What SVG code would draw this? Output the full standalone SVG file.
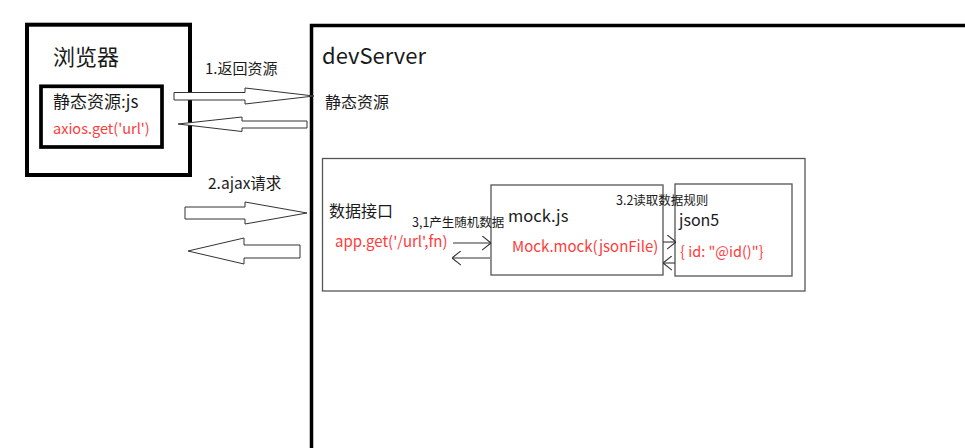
<svg xmlns="http://www.w3.org/2000/svg" width="965" height="448" viewBox="0 0 965 448">
<style>
text{font-family:"Noto Sans CJK SC","Noto Sans",sans-serif;fill:#1a1a1a}
.red{fill:#ff3b3b}
.thick{fill:none;stroke:#000}
.thin{fill:#fff;stroke:#555;stroke-width:1.3}
.block{fill:#fff;stroke:#333;stroke-width:1}
.line{fill:none;stroke:#333;stroke-width:1.1}
</style>
<defs>
<marker id="open" viewBox="0 0 10 16" refX="10" refY="8" markerWidth="9" markerHeight="15" markerUnits="userSpaceOnUse" orient="auto">
<path d="M0,0 L10,8 L0,16" fill="none" stroke="#333" stroke-width="1.2"/>
</marker>
</defs>
<rect width="965" height="448" fill="#fff"/>
<g id="browser">
<rect class="thick" x="27" y="24.7" width="163" height="150.3" stroke-width="4"/>
<text x="53" y="65" font-size="22">浏览器</text>
</g>
<g id="static-js">
<rect class="thick" x="41" y="86.3" width="121" height="60.7" stroke-width="3.7"/>
<text x="53" y="108" font-size="17">静态资源:js</text>
<text class="red" x="53" y="134" font-size="14.5">axios.get('url')</text>
</g>
<g id="devServer">
<rect class="thick" x="311.5" y="25.5" width="700" height="500" stroke-width="3.5"/>
<text x="322" y="64" font-size="22">devServer</text>
</g>
<g id="static-resource">
<text x="325" y="108" font-size="16">静态资源</text>
</g>
<g id="data-api">
<rect class="thin" x="322.5" y="158.5" width="482.5" height="132.5"/>
<text x="329" y="217" font-size="16">数据接口</text>
<text class="red" x="335" y="247" font-size="15">app.get('/url',fn)</text>
</g>
<g id="mock">
<rect class="thin" x="491" y="185" width="172" height="90"/>
<text x="508" y="222" font-size="16.5">mock.js</text>
<text class="red" x="512" y="252" font-size="15">Mock.mock(jsonFile)</text>
</g>
<g id="json5">
<rect class="thin" x="675" y="184" width="117" height="92"/>
<text x="679" y="226" font-size="16">json5</text>
<text class="red" x="680" y="257" font-size="14.5">{ id: "@id()"}</text>
</g>
<g id="connectors">
<polygon class="block" points="174,92.5 245,92.5 245,88 314,96 245,104 245,100 174,100"/>
<text x="205" y="74" font-size="15">1.返回资源</text>
<polygon class="block" points="178,124 242,117 242,121 307,121 307,128 242,128 242,131.5"/>
<text x="208" y="189" font-size="15.5">2.ajax请求</text>
<polygon class="block" points="185,207 245,207 245,202 307,213 245,224 245,219 185,219"/>
<polygon class="block" points="188,251 244,238 244,245 300,245 300,258 244,258 244,264"/>
<line class="line" x1="453" y1="243" x2="491" y2="243" marker-end="url(#open)"/>
<line class="line" x1="490" y1="258" x2="452" y2="258" marker-end="url(#open)"/>
<line class="line" x1="663" y1="242" x2="676" y2="242" marker-end="url(#open)"/>
<line class="line" x1="675" y1="263" x2="663" y2="263" marker-end="url(#open)"/>
<text x="412" y="227" font-size="12.5" fill="#222">3,1产生随机数据</text>
<text x="616" y="204.5" font-size="12.5" fill="#222">3.2读取数据规则</text>
</g>
</svg>
